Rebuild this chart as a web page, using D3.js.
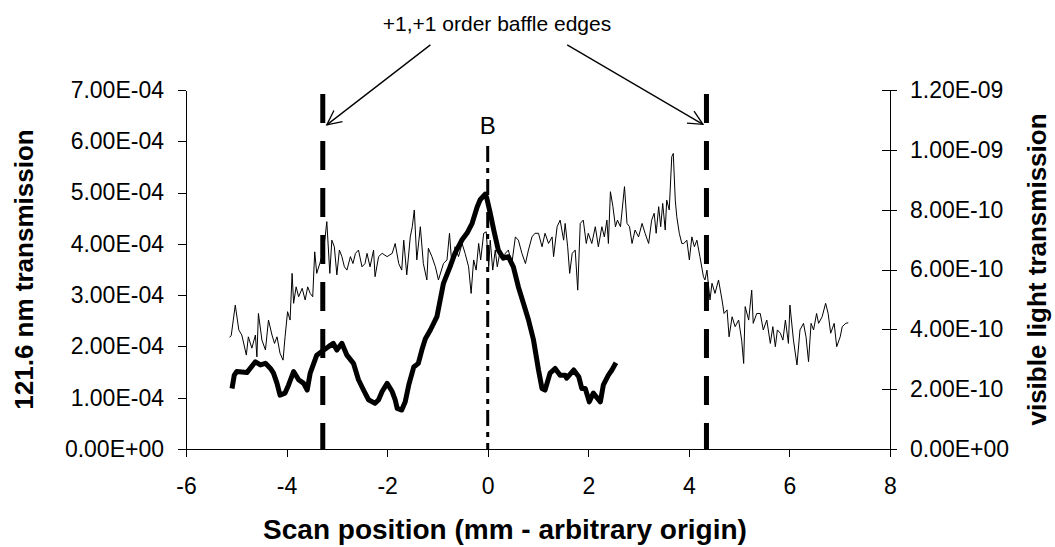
<!DOCTYPE html>
<html>
<head>
<meta charset="utf-8">
<script src="https://cdn.jsdelivr.net/npm/d3@7"></script>
<style>
  body { margin: 0; background: #fff; }
  svg text { font-family: "Liberation Sans", Arial, sans-serif; fill: #000; }
  .axis path, .axis line { stroke: #000; shape-rendering: crispEdges; }
</style>
</head>
<body>
<div id="chart"></div>
<script>
// 121.6 nm transmission (left axis), values in units of 1e-4
var uvUnit = 1e-4;
var uvX = [-5.085, -5.04, -4.99, -4.89, -4.79, -4.62, -4.52, -4.42, -4.32, -4.26, -4.19, -4.13, -4.03, -3.96, -3.86, -3.76,
  -3.66, -3.59, -3.53, -3.40, -3.26, -3.16, -3.07, -3.00, -2.90, -2.80, -2.67, -2.57, -2.47, -2.37, -2.24, -2.17, -2.10,
  -2.00, -1.90, -1.84, -1.80, -1.71, -1.64, -1.57, -1.47, -1.38, -1.31, -1.24, -1.14, -1.01, -0.88, -0.75, -0.65, -0.51,
  -0.41, -0.31, -0.21, -0.15, -0.05, -0.02, 0.05, 0.12, 0.21, 0.31, 0.41, 0.51, 0.61, 0.71, 0.81, 0.91, 1.01, 1.08, 1.14,
  1.24, 1.34, 1.44, 1.54, 1.57, 1.71, 1.81, 1.87, 1.94, 2.02, 2.10, 2.24, 2.30, 2.40, 2.47, 2.55];
var uvY = [1.18, 1.44, 1.51, 1.50, 1.49, 1.70, 1.64, 1.67, 1.57, 1.48, 1.28, 1.05, 1.09, 1.25, 1.51, 1.35,
  1.28, 1.15, 1.48, 1.83, 1.93, 2.00, 2.06, 1.93, 2.06, 1.83, 1.67, 1.35, 1.15, 0.96, 0.89, 0.96, 1.12,
  1.28, 1.12, 0.96, 0.79, 0.76, 0.92, 1.25, 1.60, 1.67, 1.93, 2.15, 2.32, 2.58, 3.23, 3.55, 3.82, 4.08,
  4.21, 4.40, 4.72, 4.86, 4.97, 4.90, 4.60, 4.27, 3.88, 3.72, 3.75, 3.55, 3.16, 2.84, 2.52, 2.13, 1.54, 1.18, 1.15,
  1.48, 1.57, 1.44, 1.44, 1.38, 1.54, 1.41, 1.18, 1.18, 0.92, 1.09, 0.92, 1.25, 1.44, 1.54, 1.68];

// visible light transmission (right axis), values in units of 1e-10
var visUnit = 1e-10;
var visX = [-5.13, -5.10, -5.02, -4.95, -4.89, -4.80, -4.76, -4.69, -4.62, -4.59, -4.56, -4.49, -4.42, -4.36, -4.29, -4.24,
  -4.19, -4.13, -4.07, -4.03, -3.98, -3.93, -3.89, -3.86, -3.81, -3.76, -3.69, -3.63, -3.58, -3.53, -3.48, -3.44, -3.40,
  -3.34, -3.30, -3.24, -3.20, -3.14, -3.10, -3.05, -3.00, -2.95, -2.90, -2.85, -2.80, -2.73, -2.68, -2.63, -2.57, -2.50,
  -2.44, -2.40, -2.34, -2.27, -2.24, -2.17, -2.10, -2.00, -1.90, -1.84, -1.77, -1.71, -1.67, -1.61, -1.54, -1.50, -1.46,
  -1.41, -1.34, -1.28, -1.21, -1.18, -1.11, -1.04, -0.98, -0.88, -0.81, -0.76, -0.71, -0.65, -0.58, -0.51, -0.45, -0.38,
  -0.33, -0.28, -0.23, -0.18, -0.14, -0.08, -0.03, 0.02, 0.05, 0.10, 0.15, 0.19, 0.25, 0.30, 0.35, 0.41, 0.48, 0.55, 0.61,
  0.68, 0.75, 0.81, 0.88, 0.94, 1.01, 1.08, 1.14, 1.21, 1.28, 1.31, 1.38, 1.44, 1.51, 1.54, 1.59, 1.63, 1.68, 1.74, 1.79,
  1.84, 1.90, 1.96, 2.00, 2.07, 2.14, 2.20, 2.27, 2.32, 2.37, 2.40, 2.44, 2.49, 2.54, 2.58, 2.64, 2.72, 2.77, 2.82, 2.87,
  2.93, 3.00, 3.07, 3.13, 3.20, 3.26, 3.31, 3.35, 3.40, 3.44, 3.48, 3.53, 3.56, 3.61, 3.66, 3.69, 3.73, 3.76, 3.81, 3.86,
  3.90, 3.96, 4.01, 4.06, 4.11, 4.16, 4.22, 4.29, 4.32, 4.36, 4.42, 4.46, 4.52, 4.59, 4.66, 4.70, 4.76, 4.80, 4.86, 4.92,
  4.99, 5.05, 5.09, 5.12, 5.19, 5.25, 5.28, 5.35, 5.42, 5.48, 5.55, 5.62, 5.67, 5.72, 5.76, 5.82, 5.87, 5.92, 5.98, 6.01,
  6.08, 6.15, 6.21, 6.28, 6.33, 6.38, 6.43, 6.48, 6.54, 6.58, 6.65, 6.72, 6.77, 6.82, 6.89, 6.94, 7.01, 7.05, 7.12, 7.17];
var visY = [3.73, 3.80, 4.81, 3.98, 3.81, 3.14, 3.75, 3.37, 3.81, 3.08, 4.53, 3.64, 3.31, 4.31, 3.81, 3.53,
  3.75, 3.20, 2.97, 3.75, 4.59, 4.31, 5.87, 4.87, 5.42, 5.09, 5.37, 4.98, 5.42, 5.20, 5.09, 6.59, 5.87,
  6.20, 6.43, 6.98, 7.60, 5.87, 6.98, 6.76, 5.82, 6.65, 6.43, 6.09, 5.98, 6.43, 6.20, 6.54, 6.65, 6.09,
  6.20, 6.54, 6.09, 6.65, 5.76, 6.43, 6.54, 6.43, 6.54, 6.87, 6.20, 5.98, 6.98, 5.82, 7.09, 7.43, 7.99,
  6.32, 7.43, 6.20, 5.65, 6.71, 6.43, 6.09, 5.65, 6.20, 6.32, 7.21, 6.09, 6.76, 6.43, 6.87, 6.54, 6.09,
  5.20, 6.32, 5.98, 6.87, 6.32, 7.21, 7.26, 6.09, 6.98, 5.98, 6.65, 6.09, 6.65, 6.32, 6.54, 6.65, 6.20, 7.09, 6.98,
  6.54, 6.20, 6.65, 7.09, 7.21, 7.21, 6.76, 7.21, 6.87, 7.09, 6.43, 7.43, 7.65, 6.98, 7.54, 6.76, 5.87, 6.54, 6.65, 5.31,
  7.54, 7.65, 6.87, 7.21, 6.87, 7.43, 6.76, 7.43, 7.09, 7.65, 6.87, 8.60, 8.10, 7.43, 7.65, 7.43, 8.77, 7.54, 7.43, 6.87,
  7.32, 7.09, 7.54, 7.21, 6.87, 7.65, 7.88, 7.21, 8.10, 7.43, 8.21, 7.32, 8.32, 7.99, 9.77, 9.88, 8.32, 7.76, 7.21, 6.87,
  6.87, 6.98, 6.32, 7.09, 6.76, 6.98, 6.43, 5.76, 5.65, 5.98, 4.98, 5.54, 5.20, 5.65, 4.98, 4.53, 4.65, 3.75, 4.42, 4.09,
  4.31, 3.64, 2.86, 4.76, 4.31, 5.31, 4.20, 4.53, 4.53, 3.98, 4.31, 3.53, 4.09, 3.42, 3.98, 3.87, 3.64, 4.31, 3.53, 4.81,
  3.64, 2.81, 3.98, 4.20, 3.75, 2.92, 4.20, 3.98, 4.53, 4.20, 4.42, 4.87, 4.53, 3.87, 4.20, 3.42, 3.75, 4.09, 4.20, 4.22];

// axis ticks
var xTicks = [-6, -4, -2, 0, 2, 4, 6, 8];
var leftTicks = [0, 1e-4, 2e-4, 3e-4, 4e-4, 5e-4, 6e-4, 7e-4];
var rightTicks = [0, 2e-10, 4e-10, 6e-10, 8e-10, 10e-10, 12e-10];

// reference lines: baffle edges and B
var baffleX = [-3.28, 4.35];
var baffleTop = 6.92e-4;
var bX = 0;
var bTop = 5.91e-4;

var width = 1055, height = 547;
var margin = { top: 90, right: 165, bottom: 98, left: 186 };
var w = width - margin.left - margin.right,
  h = height - margin.top - margin.bottom;

var x = d3.scaleLinear().domain([-6, 8]).range([0, w]);
var yL = d3.scaleLinear().domain([0, 7e-4]).range([h, 0]);
var yR = d3.scaleLinear().domain([0, 1.2e-9]).range([h, 0]);

function sci(v) {
  var s = v.toExponential(2).split("e");
  var e = +s[1];
  return s[0] + "E" + (e < 0 ? "-" : "+") + (Math.abs(e) < 10 ? "0" : "") + Math.abs(e);
}

var svg = d3.select("#chart").append("svg")
  .attr("width", width)
  .attr("height", height);

var g = svg.append("g")
  .attr("transform", "translate(" + margin.left + "," + margin.top + ")");

// axes
var gx = g.append("g")
  .attr("class", "axis")
  .attr("transform", "translate(0," + h + ")")
  .call(d3.axisBottom(x).tickValues(xTicks).tickFormat(function(d) { return String(d); })
    .tickSizeInner(8).tickSizeOuter(0).tickPadding(21));
gx.selectAll("text").style("font-size", "23px");

var gl = g.append("g")
  .attr("class", "axis")
  .call(d3.axisLeft(yL).tickValues(leftTicks).tickFormat(sci).tickSizeInner(8).tickSizeOuter(0).tickPadding(14));
gl.selectAll("text").style("font-size", "23px");

var gr = g.append("g")
  .attr("class", "axis")
  .attr("transform", "translate(" + w + ",0)")
  .call(d3.axisRight(yR).tickValues(rightTicks).tickFormat(sci).tickSizeInner(7).tickSizeOuter(0).tickPadding(13));
gr.selectAll(".tick line").attr("x1", -8);
gr.selectAll("text").style("font-size", "23px");
g.selectAll(".axis .domain").attr("stroke", "#000");

// axis titles
svg.append("text")
  .attr("x", margin.left + w / 2 - 33)
  .attr("y", 539)
  .attr("text-anchor", "middle")
  .style("font-size", "28px")
  .style("font-weight", "bold")
  .text("Scan position (mm - arbitrary origin)");

svg.append("text")
  .attr("transform", "translate(33," + (margin.top + h / 2) + ") rotate(-90)")
  .attr("text-anchor", "middle")
  .style("font-size", "26px")
  .style("font-weight", "bold")
  .text("121.6 nm transmission");

svg.append("text")
  .attr("transform", "translate(1046," + (margin.top + h / 2) + ") rotate(-90)")
  .attr("text-anchor", "middle")
  .style("font-size", "26px")
  .style("font-weight", "bold")
  .text("visible light transmission");

// baffle edge lines
g.selectAll(".baffle")
  .data(baffleX)
  .enter().append("line")
  .attr("class", "baffle")
  .attr("x1", function(d) { return x(d); })
  .attr("x2", function(d) { return x(d); })
  .attr("y1", yL(baffleTop))
  .attr("y2", yL(0))
  .attr("stroke", "#000")
  .attr("stroke-width", 5)
  .attr("stroke-dasharray", "29,18");

// B line
g.append("line")
  .attr("x1", x(bX)).attr("x2", x(bX))
  .attr("y1", yL(bTop)).attr("y2", yL(0))
  .attr("stroke", "#000")
  .attr("stroke-width", 3)
  .attr("stroke-dasharray", "16,6,5,6");

g.append("text")
  .attr("x", x(bX))
  .attr("y", yL(bTop) - 12)
  .attr("text-anchor", "middle")
  .style("font-size", "24px")
  .text("B");

// series
var uvData = uvX.map(function(d, i) { return [d, uvY[i] * uvUnit]; });
var visData = visX.map(function(d, i) { return [d, visY[i] * visUnit]; });

g.append("path")
  .datum(visData)
  .attr("fill", "none")
  .attr("stroke", "#000")
  .attr("stroke-width", 1)
  .attr("d", d3.line().x(function(d) { return x(d[0]); }).y(function(d) { return yR(d[1]); }));

g.append("path")
  .datum(uvData)
  .attr("fill", "none")
  .attr("stroke", "#000")
  .attr("stroke-width", 5)
  .attr("stroke-linejoin", "round")
  .attr("d", d3.line().x(function(d) { return x(d[0]); }).y(function(d) { return yL(d[1]); }));

// annotation with arrows
var arrows = [
  { from: [-1.14, 7.88e-4], to: [-3.20, 6.32e-4] },
  { from: [1.58, 7.88e-4], to: [4.28, 6.33e-4] }
];

svg.append("text")
  .attr("x", 497)
  .attr("y", 31)
  .attr("text-anchor", "middle")
  .style("font-size", "21px")
  .text("+1,+1 order baffle edges");

arrows.forEach(function(a) {
  var x1 = x(a.from[0]), y1 = yL(a.from[1]),
    x2 = x(a.to[0]), y2 = yL(a.to[1]);
  var ang = Math.atan2(y2 - y1, x2 - x1), len = 16, spread = 0.45;
  g.append("line")
    .attr("x1", x1).attr("y1", y1).attr("x2", x2).attr("y2", y2)
    .attr("stroke", "#000").attr("stroke-width", 1.3);
  g.append("path")
    .attr("d", "M" + (x2 - len * Math.cos(ang - spread)) + "," + (y2 - len * Math.sin(ang - spread)) +
      "L" + x2 + "," + y2 +
      "L" + (x2 - len * Math.cos(ang + spread)) + "," + (y2 - len * Math.sin(ang + spread)))
    .attr("fill", "none").attr("stroke", "#000").attr("stroke-width", 1.3);
});
</script>
</body>
</html>
